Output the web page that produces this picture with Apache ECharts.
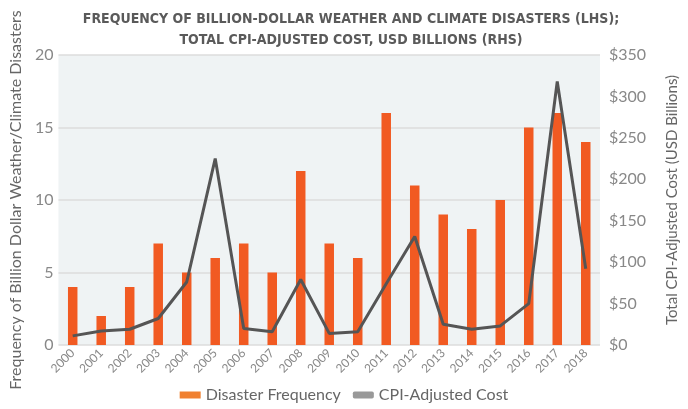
<!DOCTYPE html>
<html>
<head>
<meta charset="utf-8">
<script src="https://cdn.jsdelivr.net/npm/echarts@6/dist/echarts.min.js"></script>
<style>
  html, body { margin: 0; padding: 0; background: #fff; }
  #chart { width: 688px; height: 409px; }
</style>
</head>
<body>
<div id="chart"></div>
<script>
// values
const years = ['2000','2001','2002','2003','2004','2005','2006','2007','2008','2009',
               '2010','2011','2012','2013','2014','2015','2016','2017','2018'];
const disasterFrequency = [4, 2, 4, 7, 5, 6, 7, 5, 12, 7, 6, 16, 11, 9, 8, 10, 15, 16, 14];
const cpiAdjustedCost = [11, 17, 19, 32, 76, 225, 20, 16, 79, 14, 16, 74, 131, 25, 19, 23, 50, 318, 92];

const textFont = 'Lato, "Open Sans", sans-serif';
const titleFont = '"Liberation Sans Narrow", "DejaVu Sans Condensed", sans-serif';

const chart = echarts.init(document.getElementById('chart'), null, { renderer: 'canvas' });

chart.setOption({
  animation: false,
  title: {
    text: 'FREQUENCY OF BILLION-DOLLAR WEATHER AND CLIMATE DISASTERS (LHS);\nTOTAL CPI-ADJUSTED COST, USD BILLIONS (RHS)',
    left: 346,
    textAlign: 'center',
    top: 4,
    textStyle: {
      fontFamily: titleFont,
      fontWeight: 'bold',
      fontSize: 14,
      color: '#5a5a5a',
      lineHeight: 21
    }
  },
  legend: {
    bottom: 1,
    left: 'center',
    itemWidth: 21,
    itemHeight: 7,
    itemGap: 12,
    textStyle: { fontFamily: textFont, fontSize: 16, color: '#666' },
    data: [
      { name: 'Disaster Frequency', icon: 'rect', itemStyle: { color: '#f08030' } },
      { name: 'CPI-Adjusted Cost', icon: 'roundRect', itemStyle: { color: '#999' } }
    ]
  },
  grid: {
    left: 47,
    right: 71,
    top: 55,
    bottom: 64,
    show: true,
    backgroundColor: '#eff3f4',
    borderWidth: 0
  },
  xAxis: {
    type: 'category',
    data: years,
    axisLine: { show: false },
    axisTick: { show: false },
    axisLabel: {
      rotate: 45,
      margin: 6,
      fontFamily: textFont,
      fontSize: 12,
      color: '#888'
    }
  },
  yAxis: [
    {
      type: 'value',
      min: 0,
      max: 20,
      interval: 5,
      name: 'Frequency of Billion Dollar Weather/Climate Disasters',
      nameLocation: 'middle',
      nameGap: 32,
      nameTextStyle: { fontFamily: textFont, fontSize: 16, color: '#666' },
      axisLine: { show: false },
      axisTick: { show: false },
      axisLabel: { fontFamily: textFont, fontSize: 16, color: '#888', margin: 5 },
      splitLine: { lineStyle: { color: '#dcdcdc', width: 1.5 } }
    },
    {
      type: 'value',
      min: 0,
      max: 350,
      interval: 50,
      name: 'Total CPI-Adjusted Cost (USD Billions)',
      nameLocation: 'middle',
      nameGap: 65,
      nameTextStyle: { fontFamily: textFont, fontSize: 15, color: '#666' },
      axisLine: { show: false },
      axisTick: { show: false },
      axisLabel: {
        fontFamily: textFont,
        fontSize: 16,
        color: '#888',
        margin: 9,
        formatter: v => '$' + v
      },
      splitLine: { show: false }
    }
  ],
  series: [
    {
      name: 'Disaster Frequency',
      type: 'bar',
      data: disasterFrequency,
      barWidth: 9.5,
      itemStyle: { color: '#f15a22' },
      z: 2
    },
    {
      name: 'CPI-Adjusted Cost',
      type: 'line',
      yAxisIndex: 1,
      data: cpiAdjustedCost,
      symbol: 'none',
      lineStyle: { color: '#555', width: 3 },
      itemStyle: { color: '#555' },
      z: 3
    }
  ]
});
</script>
</body>
</html>
